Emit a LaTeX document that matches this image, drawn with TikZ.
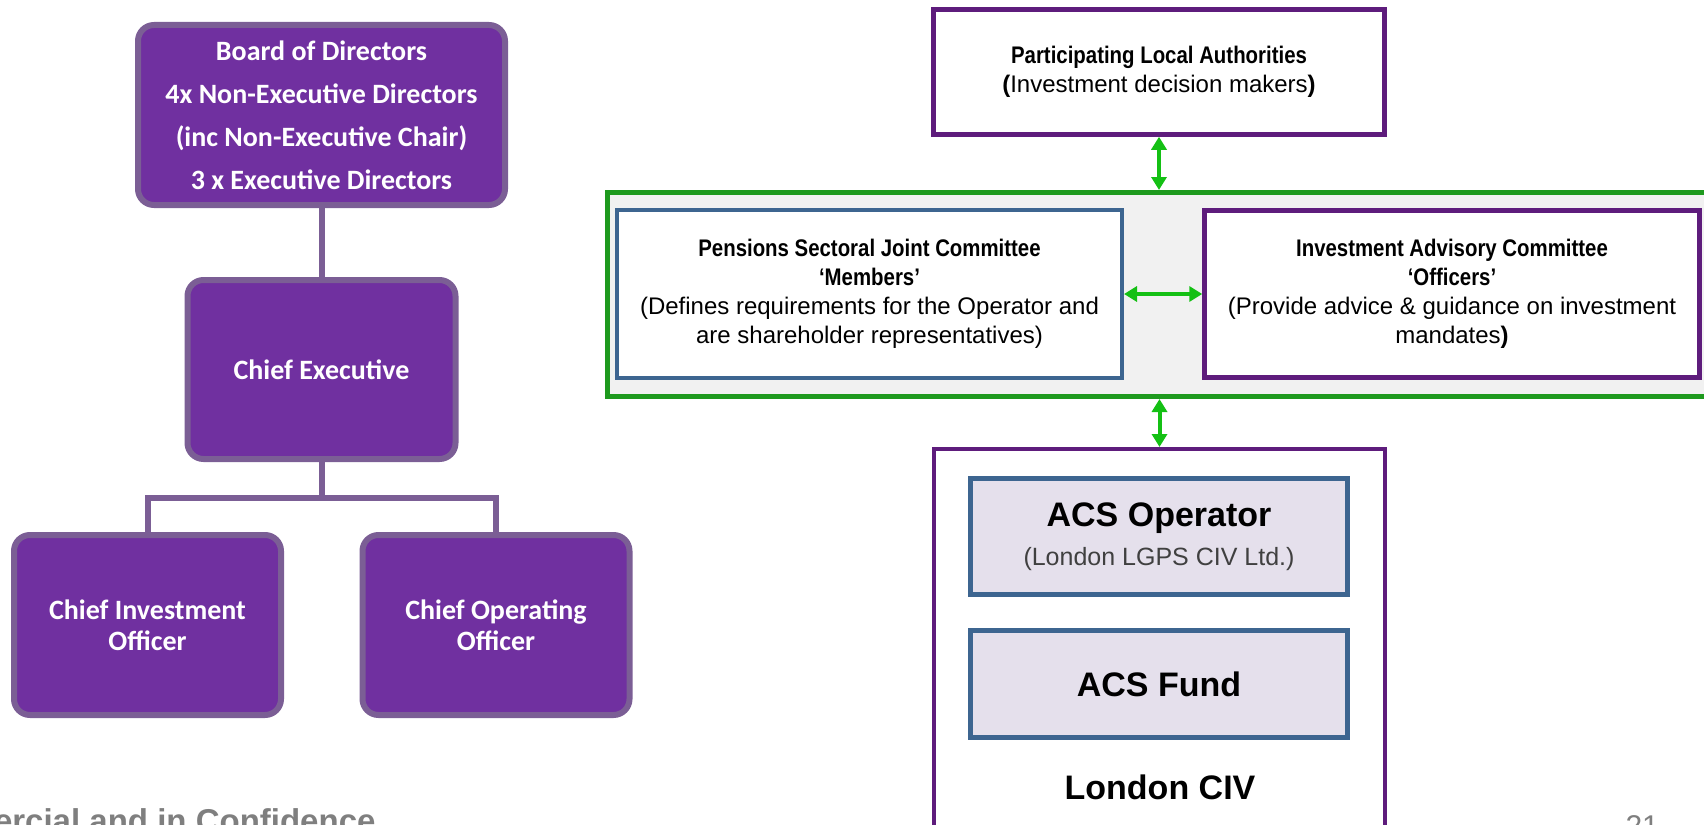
\documentclass[tikz,border=0pt]{standalone}
\usepackage{fontspec}
\setmainfont{Liberation Sans}
\newfontfamily\calibri{Carlito}
\newfontface\narrowbf{Liberation Sans Bold}[FakeStretch=0.85]
\usepackage{tikz}
\usetikzlibrary{arrows.meta}
\usetikzlibrary{positioning, calc}
\definecolor{civpurple}{HTML}{7030A0}
\definecolor{civedge}{HTML}{7B5E95}
\definecolor{darkpurple}{HTML}{5E1C7C}
\definecolor{panelgreen}{HTML}{1E9A1E}
\definecolor{arrowgreen}{HTML}{14C014}
\definecolor{steelblue}{HTML}{3D6590}
\definecolor{lavender}{HTML}{E5E0EC}
\definecolor{panelgray}{HTML}{F1F1F1}
\definecolor{footgray}{HTML}{7F7F7F}
\definecolor{subgray}{HTML}{404040}

\begin{document}
\begin{tikzpicture}[x=1pt, y=-1pt,
    orgbox/.style={draw=civedge, fill=civpurple, line width=6pt, rounded corners=16pt,
        text=white, align=center, font=\calibri\bfseries\fontsize{28}{31}\selectfont},
    orglink/.style={draw=civedge, line width=6pt},
    plainbox/.style={draw=#1, fill=white, line width=4.5pt, align=center,
        font=\fontsize{24}{29}\selectfont},
    acsbox/.style={draw=steelblue, fill=lavender, line width=5pt, align=center,
        minimum width=377pt},
    twoway/.style={arrowgreen, line width=4pt,
        {Triangle[length=13pt,width=15pt]}-{Triangle[length=13pt,width=15pt]}}]
\useasboundingbox (0,0) rectangle (1704,824);

\node[orgbox, minimum width=367pt, minimum height=180pt,
    font=\calibri\bfseries\fontsize{28}{43}\selectfont] (board) at (321.5,115)
    {Board of Directors\\4x Non-Executive Directors\\(inc Non-Executive Chair)\\3 x Executive Directors};
\node[orgbox, minimum width=268pt, minimum height=179pt] (ceo) at (321.5,369.5) {Chief Executive};

\foreach \nm/\x/\txt in {
    cio/147.5/Chief Investment\\Officer,
    coo/496/Chief Operating\\Officer}
    \node[orgbox, minimum width=267pt, minimum height=180pt] (\nm) at (\x,625) {\txt};

\draw[orglink] (board) -- (ceo);
\draw[orglink] (ceo.south) -- ++(0,36) -| (cio.north);
\draw[orglink] (ceo.south) -- ++(0,36) -| (coo.north);

\node[anchor=base east, text=footgray, font=\bfseries\fontsize{33}{33}\selectfont] (footer)
    at (379,832) {Commercial and in Confidence};
\node[anchor=base west, text=footgray, font=\fontsize{30}{30}\selectfont] (pagenum)
    at (1622,836) {21};

\node[draw=panelgreen, fill=panelgray, line width=5pt, minimum width=1102pt,
    minimum height=204pt] (panel) at (1158.5,294.5) {};

\node[plainbox=darkpurple, minimum width=451pt, minimum height=125pt] (pla) at (1159,72)
    {{\narrowbf Participating Local Authorities}\\{\bfseries(}Investment decision makers{\bfseries)}};
\node[plainbox=steelblue, line width=4pt, minimum width=505pt, minimum height=168pt] (psjc) at (869.5,294)
    {{\narrowbf Pensions Sectoral Joint Committee}\\{\narrowbf ‘Members’}\\(Defines requirements for the Operator and\\are shareholder representatives)};
\node[plainbox=darkpurple, minimum width=495pt, minimum height=167pt] (iac) at (1452,294)
    {{\narrowbf Investment Advisory Committee}\\{\narrowbf ‘Officers’}\\(Provide advice \& guidance on investment\\mandates{\bfseries)}};

\node[plainbox=darkpurple, line width=4pt, minimum width=451pt, minimum height=384pt] (civ) at (1159.5,641) {};
\node[acsbox, minimum height=116pt, font=\fontsize{25}{39}\selectfont] (operator) at (1159,536.5)
    {{\bfseries\fontsize{34}{39}\selectfont ACS Operator}\\{\color{subgray}(London LGPS CIV Ltd.)}};
\node[acsbox, minimum height=107pt, font=\bfseries\fontsize{34}{40}\selectfont] (fund) at (1159,684) {ACS Fund};
\node[font=\bfseries\fontsize{34}{40}\selectfont] (civlabel) at (1160,787) {London CIV};

\draw[twoway] (pla.south) -- (pla.south |- panel.north);
\draw[twoway] (psjc.east) -- (iac.west);
\draw[twoway] (civ.north |- panel.south) -- (civ.north);

\end{tikzpicture}
\end{document}
